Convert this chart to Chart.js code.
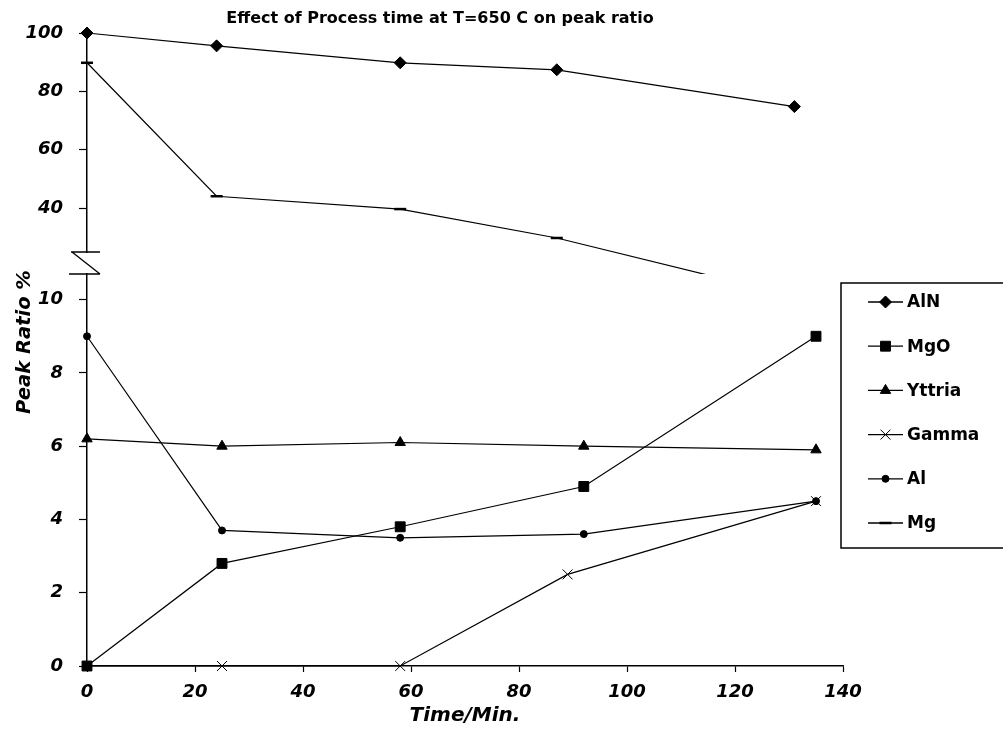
<!DOCTYPE html>
<html>
<head>
<meta charset="utf-8">
<script src="https://cdn.jsdelivr.net/npm/chart.js@4.4.1/dist/chart.umd.min.js"></script>
<style>
  html, body { margin: 0; padding: 0; background: #fff; }
  #wrap { position: relative; width: 1003px; height: 737px; }
</style>
</head>
<body>
<div id="wrap"><canvas id="peakChart"></canvas></div>
<script>
/* ------------------------------------------------------------
   Data
------------------------------------------------------------ */
const chartTitle = "Effect of Process time at T=650 C on peak ratio";
const xTitle = "Time/Min.";
const yTitle = "Peak Ratio %";

// upper panel (broken axis, 25..100)
const alnTime  = [0, 24, 58, 87, 131];
const alnRatio = [100, 95.6, 89.8, 87.4, 74.8];
const mgTime   = [0, 24, 58, 87, 135];
const mgRatio  = [89.8, 44.1, 39.7, 29.8, 8];

// lower panel (0..10)
const lowTime     = [0, 25, 58, 92, 135];
const gammaTime   = [0, 25, 58, 89, 135];
const mgoRatio    = [0, 2.8, 3.8, 4.9, 9.0];
const yttriaRatio = [6.2, 6.0, 6.1, 6.0, 5.9];
const gammaRatio  = [0, 0, 0, 2.5, 4.5];
const alRatio     = [9.0, 3.7, 3.5, 3.6, 4.5];

const xTicks     = [0, 20, 40, 60, 80, 100, 120, 140];
const upperTicks = [40, 60, 80, 100];
const lowerTicks = [0, 2, 4, 6, 8, 10];

const FONT = "'DejaVu Sans', 'Liberation Sans', Arial, sans-serif";

function toPoints(xs, ys) {
    return xs.map((x, i) => ({ x: x, y: ys[i] }));
}

function series(label, xs, ys, axis, style, radius, border) {
    return {
        label: label,
        data: toPoints(xs, ys),
        yAxisID: axis,
        borderColor: "#000",
        backgroundColor: "#000",
        borderWidth: 1.2,
        pointStyle: style,
        pointRadius: radius,
        pointHoverRadius: radius,
        pointBorderWidth: border,
        pointBackgroundColor: "#000",
        pointBorderColor: "#000",
        tension: 0,
        clip: false
    };
}

/* ------------------------------------------------------------
   Plugins: title, y title, axis break, clipped upper lines, legend box
============================================================ */
const upperClip = {
    id: "upperClip",
    beforeDatasetDraw(chart, args) {
        if (args.meta.yAxisID !== "yTop") return;
        const ctx = chart.ctx;
        ctx.save();
        ctx.beginPath();
        ctx.rect(0, 0, chart.width, chart.scales.yBot.top);
        ctx.clip();
    },
    afterDatasetDraw(chart, args) {
        if (args.meta.yAxisID !== "yTop") return;
        chart.ctx.restore();
    }
};

const decorations = {
    id: "decorations",
    afterDraw(chart) {
        const ctx = chart.ctx;
        const area = chart.chartArea;

        // title
        ctx.save();
        ctx.fillStyle = "#000";
        ctx.font = "bold 16px " + FONT;
        ctx.textAlign = "center";
        ctx.textBaseline = "middle";
        ctx.fillText(chartTitle, 440, 19);

        // y title
        ctx.translate(25, 342);
        ctx.rotate(-Math.PI / 2);
        ctx.font = "italic bold 19.5px " + FONT;
        ctx.fillText(yTitle, 0, 0);
        ctx.restore();

        // axis break
        const top = chart.scales.yTop.bottom;
        const bot = chart.scales.yBot.top;
        const x = area.left;
        ctx.save();
        ctx.strokeStyle = "#000";
        ctx.lineWidth = 1.3;
        ctx.beginPath();
        ctx.moveTo(x - 16, top); ctx.lineTo(x + 13, top);
        ctx.moveTo(x - 15, top); ctx.lineTo(x + 13, bot);
        ctx.moveTo(x - 18, bot); ctx.lineTo(x + 13, bot);
        ctx.stroke();
        ctx.restore();

        // legend box
        const left = area.right - 2, boxTop = 283, boxBottom = 548;
        ctx.save();
        ctx.strokeStyle = "#000";
        ctx.lineWidth = 1.5;
        ctx.strokeRect(left, boxTop, chart.width - left + 10, boxBottom - boxTop);
        ctx.font = "bold 17px " + FONT;
        ctx.textBaseline = "middle";
        ctx.textAlign = "left";
        chart.data.datasets.forEach((ds, i) => {
            const y = 302 + i * 44.2;
            ctx.strokeStyle = "#000";
            ctx.fillStyle = "#000";
            ctx.lineWidth = 1.3;
            ctx.beginPath();
            ctx.moveTo(868, y);
            ctx.lineTo(903, y);
            ctx.stroke();
            ctx.lineWidth = ds.pointBorderWidth;
            Chart.helpers.drawPoint(ctx, {
                pointStyle: ds.pointStyle,
                radius: ds.pointRadius,
                rotation: 0,
                borderWidth: ds.pointBorderWidth
            }, 885.5, y);
            ctx.fillText(ds.label, 907, y + 1);
        });
        ctx.restore();
    }
};

/* ------------------------------------------------------------
   Chart
============================================================ */
const tickFont = { family: FONT, size: 18, weight: "bold", style: "italic" };

function yAxis(weight, min, max, ticks) {
    return {
        type: "linear",
        position: "left",
        stack: "peak",
        stackWeight: weight,
        min: min,
        max: max,
        afterBuildTicks: s => { s.ticks = ticks.map(v => ({ value: v })); },
        afterFit: s => { s.width = 87; },
        border: { color: "#000", width: 1.5 },
        grid: { drawOnChartArea: false, tickLength: 8, tickColor: "#000", tickWidth: 1.2 },
        ticks: { color: "#000", font: tickFont, padding: 16 }
    };
}

new Chart(document.getElementById("peakChart"), {
    type: "line",
    data: {
        datasets: [
            series("AlN",    alnTime,   alnRatio,    "yTop", "rectRot",  6, 1),
            series("MgO",    lowTime,   mgoRatio,    "yBot", "rect",     7, 1),
            series("Yttria", lowTime,   yttriaRatio, "yBot", "triangle", 6, 1),
            series("Gamma",  gammaTime, gammaRatio,  "yBot", "crossRot", 7, 1),
            series("Al",     lowTime,   alRatio,     "yBot", "circle",   3.5, 1),
            series("Mg",     mgTime,    mgRatio,     "yTop", "line",     6, 2.5)
        ]
    },
    options: {
        responsive: true,
        maintainAspectRatio: false,
        animation: false,
        layout: { padding: { top: 33, right: 160, left: 0, bottom: 0 } },
        plugins: {
            legend: { display: false },
            title: { display: false },
            tooltip: { enabled: false }
        },
        scales: {
            x: {
                type: "linear",
                position: "bottom",
                min: 0,
                max: 140,
                afterBuildTicks: s => { s.ticks = xTicks.map(v => ({ value: v })); },
                afterFit: s => { s.height = 71; },
                border: { color: "#000", width: 1.5 },
                grid: { drawOnChartArea: false, tickLength: 6, tickColor: "#000", tickWidth: 1.2 },
                ticks: { color: "#000", font: tickFont, padding: 10, maxRotation: 0 },
                title: {
                    display: true,
                    text: xTitle,
                    color: "#000",
                    font: { family: FONT, size: 20, weight: "bold", style: "italic" },
                    padding: { top: 0, bottom: 9 }
                }
            },
            // left stacks are laid out in reverse order: listed bottom first
            yBot: yAxis(392, 0, 10.7, lowerTicks),
            yGap: { type: "linear", position: "left", stack: "peak", stackWeight: 22, display: false, min: 0, max: 1 },
            yTop: yAxis(219, 25, 100, upperTicks)
        }
    },
    plugins: [upperClip, decorations]
});
</script>
</body>
</html>
